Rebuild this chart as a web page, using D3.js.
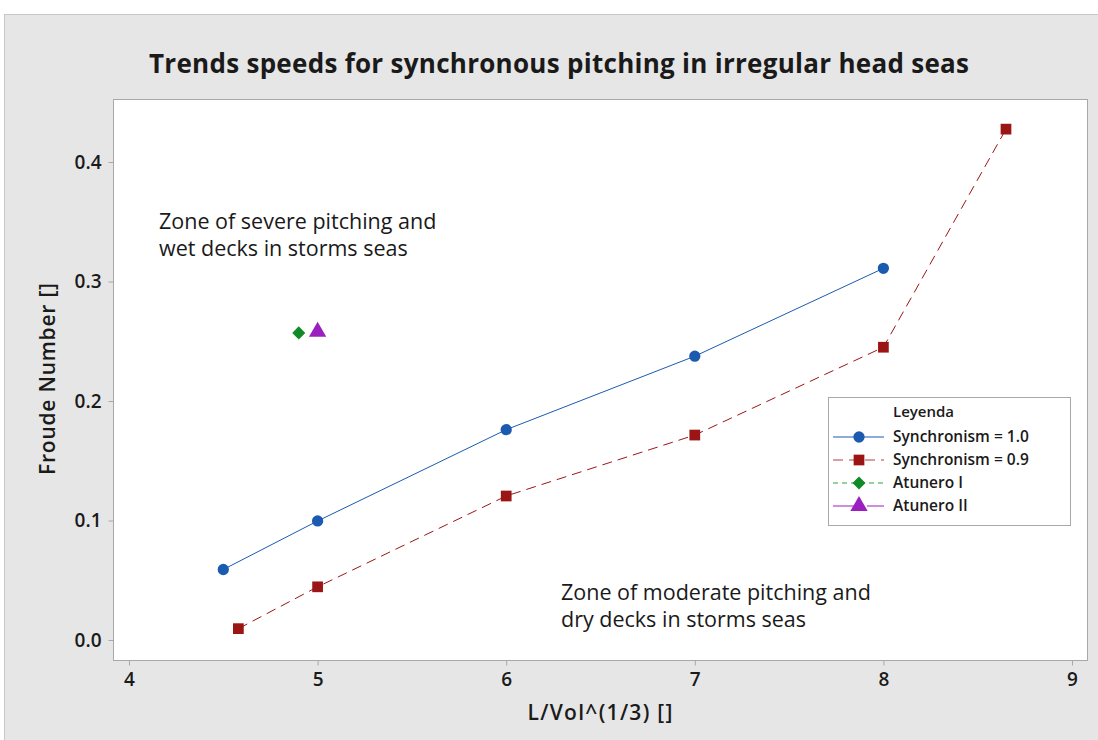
<!DOCTYPE html>
<html>
<head>
<meta charset="utf-8">
<script src="https://cdn.jsdelivr.net/npm/d3@7"></script>
<style>
  body { margin: 0; background: #fff; }
  text { font-family: "Open Sans", "Noto Sans", sans-serif; fill: #1a1a1a; }
</style>
</head>
<body>
<script>
// Series data
var sync10X = [4.5, 5, 6, 7, 8];
var sync10Y = [0.059, 0.0996, 0.176, 0.2375, 0.311];
var sync09X = [4.58, 5, 6, 7, 8, 8.65];
var sync09Y = [0.0095, 0.0445, 0.1205, 0.1715, 0.245, 0.4275];
var atuneroIX = [4.9];
var atuneroIY = [0.257];
var atuneroIIX = [5.0];
var atuneroIIY = [0.258];

var xTicks = [4, 5, 6, 7, 8, 9];
var yTicks = [0.0, 0.1, 0.2, 0.3, 0.4];
var legendLabels = ['Synchronism = 1.0', 'Synchronism = 0.9', 'Atunero I', 'Atunero II'];

var width = 1098, height = 740;
// plot area edges
var plotLeft = 113, plotTop = 99, plotRight = 1087, plotBottom = 660;

var svg = d3.select('body').append('svg')
  .attr('width', width)
  .attr('height', height);

// Gray outer panel
svg.append('rect')
  .attr('x', 4.5).attr('y', 14.5)
  .attr('width', width - 4).attr('height', height - 14)
  .attr('fill', '#e6e6e6')
  .attr('stroke', '#c8c8c8');

// White data region
svg.append('rect')
  .attr('x', plotLeft + 0.5).attr('y', plotTop + 0.5)
  .attr('width', plotRight - plotLeft).attr('height', plotBottom - plotTop)
  .attr('fill', '#fff')
  .attr('stroke', '#a8a8a8');

var x = d3.scaleLinear().domain([4, 9]).range([129, 1072]);
var y = d3.scaleLinear().domain([0, 0.4]).range([640, 162]);

// Axes
var xAxis = svg.append('g')
  .attr('transform', 'translate(0,' + (plotBottom + 0.5) + ')')
  .call(d3.axisBottom(x).tickValues(xTicks).tickFormat(d3.format('d')).tickSize(5).tickPadding(7));
var yAxis = svg.append('g')
  .attr('transform', 'translate(' + (plotLeft + 0.5) + ',0)')
  .call(d3.axisLeft(y).tickValues(yTicks).tickFormat(d3.format('.1f')).tickSize(5).tickPadding(7));

[xAxis, yAxis].forEach(function(ax) {
  ax.select('.domain').remove();
  ax.selectAll('.tick line').attr('stroke', '#a8a8a8');
  ax.selectAll('.tick text')
    .attr('font-size', 19)
    .attr('font-weight', 600)
    .attr('font-family', '"Open Sans", "Noto Sans", sans-serif')
    .attr('fill', '#1a1a1a');
});

// Title
svg.append('text')
  .attr('x', 559).attr('y', 73)
  .attr('text-anchor', 'middle')
  .attr('font-size', 26)
  .attr('font-weight', 'bold')
  .attr('textLength', 820)
  .text('Trends speeds for synchronous pitching in irregular head seas');

// Axis titles
svg.append('text')
  .attr('x', 600).attr('y', 720)
  .attr('text-anchor', 'middle')
  .attr('font-size', 21)
  .attr('font-weight', 600)
  .attr('textLength', 145)
  .text('L/Vol^(1/3) []');
svg.append('text')
  .attr('transform', 'translate(55,379) rotate(-90)')
  .attr('text-anchor', 'middle')
  .attr('font-size', 21)
  .attr('font-weight', 600)
  .attr('textLength', 192)
  .text('Froude Number []');

// Zone annotations
function note(x0, y0, lines) {
  var t = svg.append('text').attr('font-size', 21.5);
  lines.forEach(function(l, i) {
    t.append('tspan').attr('x', x0).attr('y', y0 + i * 27).text(l);
  });
}
note(159, 229, ['Zone of severe pitching and', 'wet decks in storms seas']);
note(561, 600, ['Zone of moderate pitching and', 'dry decks in storms seas']);

var line = d3.line().x(function(d) { return x(d[0]); }).y(function(d) { return y(d[1]); });

var sync10 = sync10X.map(function(v, i) { return [v, sync10Y[i]]; });
var sync09 = sync09X.map(function(v, i) { return [v, sync09Y[i]]; });
var atI = atuneroIX.map(function(v, i) { return [v, atuneroIY[i]]; });
var atII = atuneroIIX.map(function(v, i) { return [v, atuneroIIY[i]]; });

var blue = '#1a5bb0', red = '#9b1515', green = '#0f8a26', purple = '#9b1fbf';

svg.append('path').datum(sync10).attr('d', line)
  .attr('fill', 'none').attr('stroke', blue).attr('stroke-width', 1);
svg.append('path').datum(sync09).attr('d', line)
  .attr('fill', 'none').attr('stroke', red).attr('stroke-width', 1)
  .attr('stroke-dasharray', '10,6');

var sym = {
  circle: d3.symbol().type(d3.symbolCircle).size(100),
  square: d3.symbol().type(d3.symbolSquare).size(115),
  diamond: d3.symbol().type(d3.symbolSquare).size(85),
  triangle: d3.symbol().type(d3.symbolTriangle).size(130)
};

function markers(data, shape, color) {
  svg.append('g').selectAll('path')
    .data(data).enter().append('path')
    .attr('d', sym[shape])
    .attr('transform', function(d) {
      return 'translate(' + x(d[0]) + ',' + y(d[1]) + ')' + (shape === 'diamond' ? ' rotate(45)' : '');
    })
    .attr('fill', color);
}
markers(sync10, 'circle', blue);
markers(sync09, 'square', red);
markers(atI, 'diamond', green);
markers(atII, 'triangle', purple);

// Legend
var lg = svg.append('g').attr('transform', 'translate(828,397)');
lg.append('rect')
  .attr('x', 0.5).attr('y', 0.5).attr('width', 242).attr('height', 128)
  .attr('fill', '#fff').attr('stroke', '#a8a8a8');
lg.append('text')
  .attr('x', 65).attr('y', 20)
  .attr('font-size', 15).attr('font-weight', 600)
  .text('Leyenda');

var legendStyles = [
  {color: blue, dash: null, shape: 'circle'},
  {color: '#b04040', dash: '10,6', shape: 'square'},
  {color: '#2ea043', dash: '5,4', shape: 'diamond'},
  {color: purple, dash: '28,6', shape: 'triangle'}
];
var legendMarkColors = [blue, red, green, purple];
legendLabels.forEach(function(label, i) {
  var yy = 40 + i * 23;
  var st = legendStyles[i];
  lg.append('line')
    .attr('x1', 5).attr('x2', 56).attr('y1', yy).attr('y2', yy)
    .attr('stroke', st.color).attr('stroke-width', 1)
    .attr('stroke-dasharray', st.dash);
  lg.append('path')
    .attr('d', sym[st.shape])
    .attr('transform', 'translate(31,' + yy + ')' + (st.shape === 'diamond' ? ' rotate(45)' : ''))
    .attr('fill', legendMarkColors[i]);
  lg.append('text')
    .attr('x', 65).attr('y', yy + 5)
    .attr('font-size', 15.5)
    .attr('font-weight', 600)
    .text(label);
});
</script>
</body>
</html>
